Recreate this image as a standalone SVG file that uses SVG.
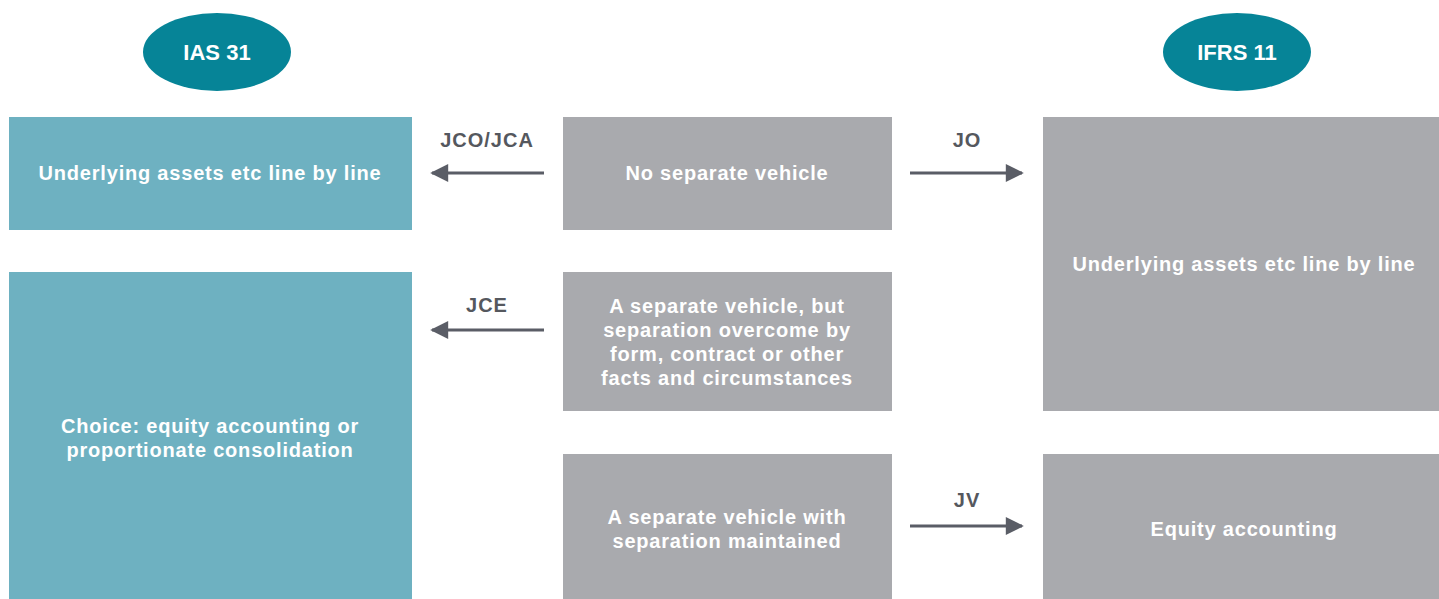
<svg xmlns="http://www.w3.org/2000/svg" width="1439" height="599" viewBox="0 0 1439 599">
<style>
.hdr{fill:#068497}
.teal{fill:#6eb1c1}
.grey{fill:#a9aaae}
.t{font-family:"Liberation Sans",Arial,sans-serif;font-weight:bold;font-size:20px;letter-spacing:0.8px;fill:#ffffff;text-anchor:middle}
.ht{font-family:"Liberation Sans",Arial,sans-serif;font-weight:bold;font-size:22px;fill:#ffffff;text-anchor:middle}
.lbl{font-family:"Liberation Sans",Arial,sans-serif;font-weight:bold;font-size:20px;letter-spacing:1px;fill:#55585e;text-anchor:middle}
.conn{stroke:#5a5d66;stroke-width:3;fill:none;marker-end:url(#ah)}
</style>
<defs>
<marker id="ah" viewBox="0 0 10 10" refX="9" refY="5" markerWidth="7" markerHeight="6" markerUnits="strokeWidth" orient="auto">
<path d="M0,0 L10,5 L0,10 Z" fill="#5a5d66"/>
</marker>
</defs>
<rect width="1439" height="599" fill="#ffffff"/>
<g id="ias31"><ellipse class="hdr" cx="217" cy="52" rx="74" ry="39"/><text class="ht" x="217" y="60">IAS 31</text></g>
<g id="ifrs11"><ellipse class="hdr" cx="1237" cy="52" rx="74" ry="39"/><text class="ht" x="1237" y="60">IFRS 11</text></g>
<g id="ias-line"><rect class="teal" x="9" y="117" width="403" height="113"/><text class="t" x="210" y="180">Underlying assets etc line by line</text></g>
<g id="ias-choice"><rect class="teal" x="9" y="272" width="403" height="327"/><text class="t" x="210" y="433">Choice: equity accounting or</text><text class="t" x="210" y="457">proportionate consolidation</text></g>
<g id="no-vehicle"><rect class="grey" x="563" y="117" width="329" height="113"/><text class="t" x="727" y="180">No separate vehicle</text></g>
<g id="overcome"><rect class="grey" x="563" y="272" width="329" height="139"/><text class="t" x="727" y="313">A separate vehicle, but</text><text class="t" x="727" y="337">separation overcome by</text><text class="t" x="727" y="361">form, contract or other</text><text class="t" x="727" y="385">facts and circumstances</text></g>
<g id="maintained"><rect class="grey" x="563" y="454" width="329" height="145"/><text class="t" x="727" y="524">A separate vehicle with</text><text class="t" x="727" y="548">separation maintained</text></g>
<g id="ifrs-line"><rect class="grey" x="1043" y="117" width="396" height="294"/><text class="t" x="1244" y="271">Underlying assets etc line by line</text></g>
<g id="ifrs-equity"><rect class="grey" x="1043" y="454" width="396" height="145"/><text class="t" x="1244" y="536">Equity accounting</text></g>
<g id="connectors">
<line class="conn" x1="544" y1="173" x2="432" y2="173"/>
<text class="lbl" x="487" y="147">JCO/JCA</text>
<line class="conn" x1="910" y1="173" x2="1022" y2="173"/>
<text class="lbl" x="967" y="147">JO</text>
<line class="conn" x1="544" y1="330" x2="432" y2="330"/>
<text class="lbl" x="487" y="312">JCE</text>
<line class="conn" x1="910" y1="526" x2="1022" y2="526"/>
<text class="lbl" x="967" y="507">JV</text>
</g>
</svg>
